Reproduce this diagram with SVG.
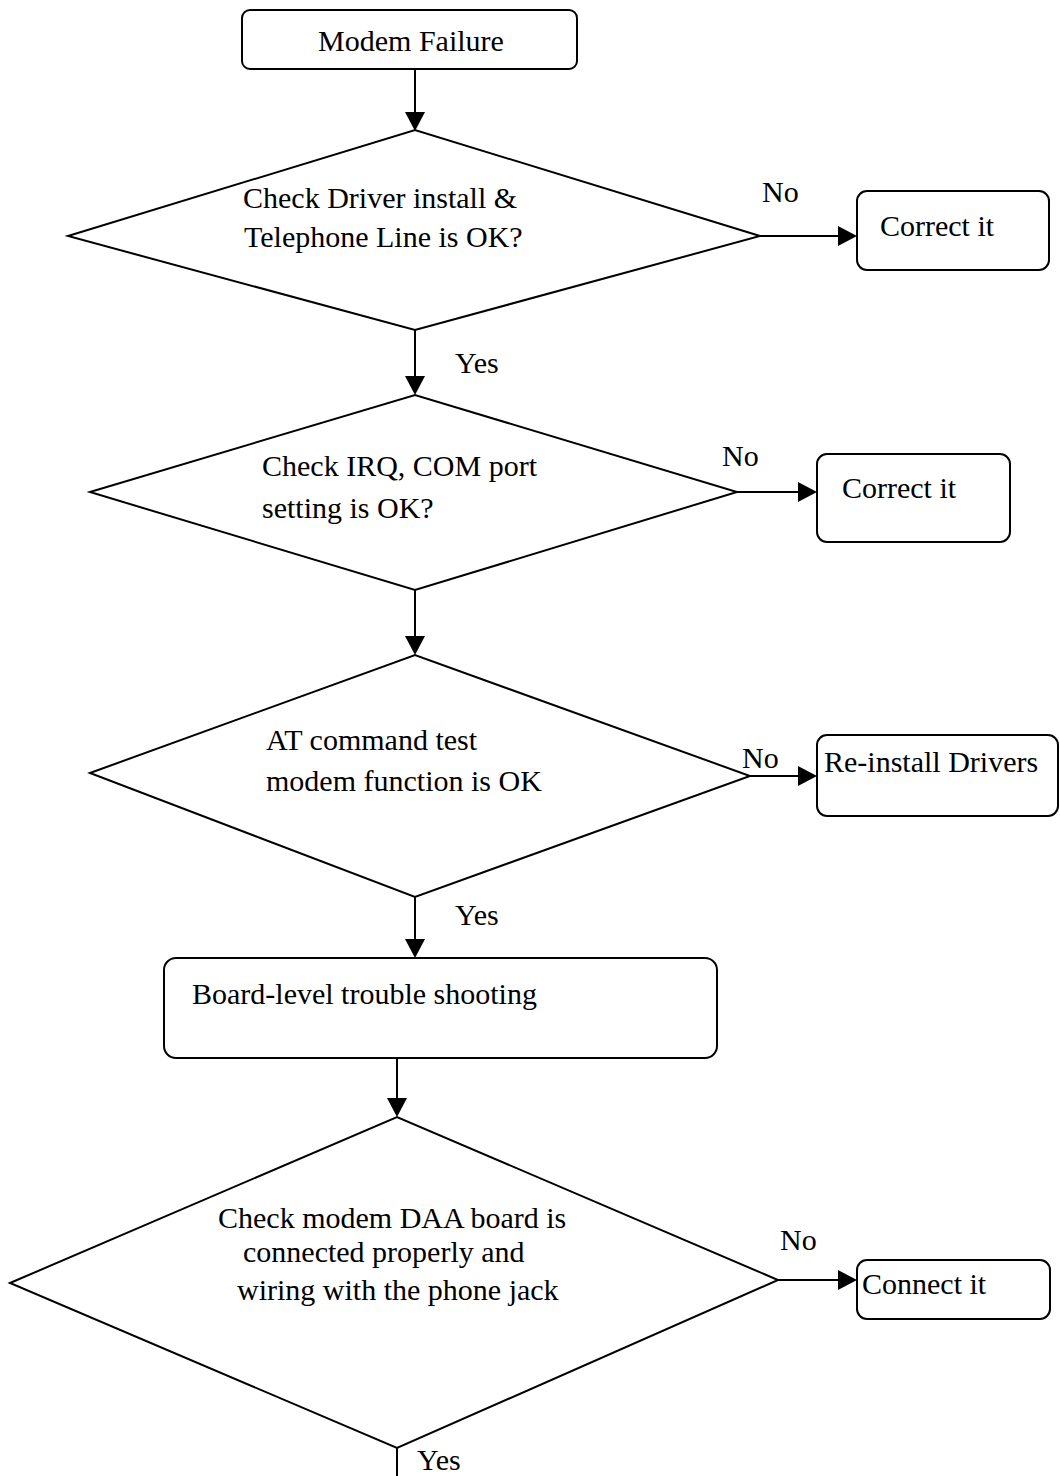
<svg xmlns="http://www.w3.org/2000/svg" width="1060" height="1476" viewBox="0 0 1060 1476">
<style>
.box{fill:#fff;stroke:#000;stroke-width:2}
.dia{fill:#fff;stroke:#000;stroke-width:2}
.t{font-family:"Liberation Serif","Times New Roman",serif;font-size:30px;fill:#000}
.c{stroke:#000;stroke-width:2;fill:none}
.ah{fill:#000}
</style>
<rect width="1060" height="1476" fill="#fff"/>
<g id="connectors">
<line class="c" x1="415" y1="69" x2="415" y2="113"/>
<path class="ah" d="M405,112 L425,112 L415,131 Z"/>
<line class="c" x1="760" y1="236" x2="840" y2="236"/>
<path class="ah" d="M838,226 L838,246 L857,236 Z"/>
<text class="t" x="762" y="202">No</text>
<line class="c" x1="415" y1="330" x2="415" y2="377"/>
<path class="ah" d="M405,376 L425,376 L415,395 Z"/>
<text class="t" x="455" y="373">Yes</text>
<line class="c" x1="737" y1="492" x2="800" y2="492"/>
<path class="ah" d="M798,482 L798,502 L817,492 Z"/>
<text class="t" x="722" y="466">No</text>
<line class="c" x1="415" y1="590" x2="415" y2="637"/>
<path class="ah" d="M405,636 L425,636 L415,655 Z"/>
<line class="c" x1="750" y1="776" x2="800" y2="776"/>
<path class="ah" d="M798,766 L798,786 L817,776 Z"/>
<text class="t" x="742" y="768">No</text>
<line class="c" x1="415" y1="897" x2="415" y2="940"/>
<path class="ah" d="M405,939 L425,939 L415,958 Z"/>
<text class="t" x="455" y="925">Yes</text>
<line class="c" x1="397" y1="1058" x2="397" y2="1099"/>
<path class="ah" d="M387,1098 L407,1098 L397,1117 Z"/>
<line class="c" x1="778" y1="1280" x2="840" y2="1280"/>
<path class="ah" d="M838,1270 L838,1290 L857,1280 Z"/>
<text class="t" x="780" y="1250">No</text>
<line class="c" x1="397" y1="1448" x2="397" y2="1476"/>
<text class="t" x="417" y="1470">Yes</text>
</g>
<g id="start">
<rect class="box" x="242" y="10" width="335" height="59" rx="8"/>
<text class="t" x="411" y="51" text-anchor="middle">Modem Failure</text>
</g>
<g id="d1">
<polygon class="dia" points="68,236 415,130 760,236 415,330"/>
<text class="t" x="243" y="208">Check Driver install &amp;</text>
<text class="t" x="244" y="247">Telephone Line is OK?</text>
</g>
<g id="r1">
<rect class="box" x="857" y="191" width="192" height="79" rx="10"/>
<text class="t" x="880" y="236">Correct it</text>
</g>
<g id="d2">
<polygon class="dia" points="90,492 415,395 737,492 415,590"/>
<text class="t" x="262" y="476">Check IRQ, COM port</text>
<text class="t" x="262" y="518">setting is OK?</text>
</g>
<g id="r2">
<rect class="box" x="817" y="454" width="193" height="88" rx="10"/>
<text class="t" x="842" y="498">Correct it</text>
</g>
<g id="d3">
<polygon class="dia" points="90,773 415,655 750,776 415,897"/>
<text class="t" x="266" y="750">AT command test</text>
<text class="t" x="266" y="791">modem function is OK</text>
</g>
<g id="r3">
<rect class="box" x="817" y="735" width="241" height="81" rx="10"/>
<text class="t" x="824" y="772">Re-install Drivers</text>
</g>
<g id="board">
<rect class="box" x="164" y="958" width="553" height="100" rx="12"/>
<text class="t" x="192" y="1004">Board-level trouble shooting</text>
</g>
<g id="d4">
<polygon class="dia" points="10,1283 397,1117 778,1280 397,1448"/>
<text class="t" x="218" y="1228">Check modem DAA board is</text>
<text class="t" x="243" y="1262">connected properly and</text>
<text class="t" x="237" y="1300">wiring with the phone jack</text>
</g>
<g id="r4">
<rect class="box" x="857" y="1260" width="193" height="59" rx="10"/>
<text class="t" x="862" y="1294">Connect it</text>
</g>
</svg>
